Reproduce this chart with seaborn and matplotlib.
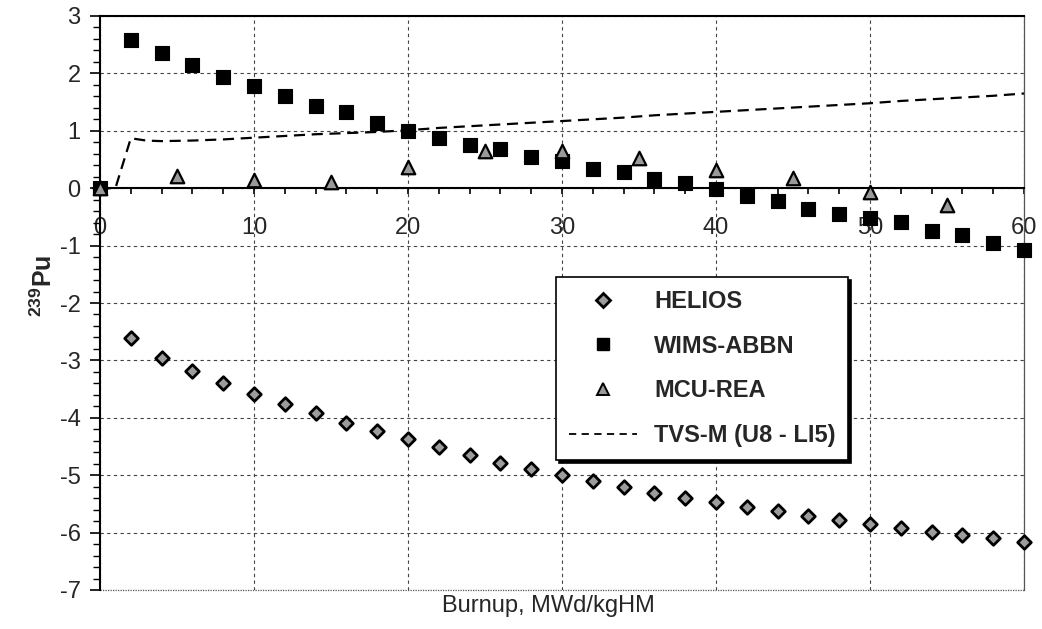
import matplotlib
matplotlib.use("Agg")
import matplotlib.pyplot as plt
import seaborn as sns
from matplotlib.lines import Line2D
from matplotlib.ticker import MultipleLocator

# Burnup grid (MWd/kgHM) shared by the HELIOS and WIMS-ABBN series
burnup = [0, 2, 4, 6, 8, 10, 12, 14, 16, 18, 20, 22, 24, 26, 28, 30,
          32, 34, 36, 38, 40, 42, 44, 46, 48, 50, 52, 54, 56, 58, 60]

helios = [0.0, -2.61, -2.96, -3.19, -3.40, -3.58, -3.76, -3.92, -4.09, -4.23,
          -4.37, -4.51, -4.65, -4.78, -4.89, -5.00, -5.10, -5.21, -5.31, -5.40,
          -5.47, -5.56, -5.63, -5.71, -5.78, -5.85, -5.92, -5.99, -6.04, -6.10,
          -6.17]

wims = [0.0, 2.58, 2.35, 2.14, 1.94, 1.78, 1.60, 1.44, 1.33, 1.14,
        1.00, 0.88, 0.75, 0.68, 0.55, 0.47, 0.34, 0.29, 0.16, 0.09,
        -0.02, -0.13, -0.22, -0.36, -0.45, -0.52, -0.59, -0.74, -0.81, -0.95,
        -1.08]

# MCU-REA reference points
mcu_burnup = [0, 5, 10, 15, 20, 25, 30, 35, 40, 45, 50, 55]
mcu = [0.0, 0.21, 0.15, 0.10, 0.37, 0.65, 0.64, 0.52, 0.32, 0.17, -0.06, -0.30]

# TVS-M (U8 - LI5) curve
tvs_burnup = [0, 1, 2, 3, 4, 6, 8, 10, 12, 14, 16, 18, 20, 22, 24, 26, 28, 30,
              32, 34, 36, 38, 40, 42, 44, 46, 48, 50, 52, 54, 56, 58, 60]
tvs = [0.0, 0.0, 0.87, 0.83, 0.82, 0.83, 0.85, 0.88, 0.91, 0.94, 0.96, 0.98,
       1.01, 1.05, 1.08, 1.11, 1.14, 1.17, 1.20, 1.23, 1.27, 1.30, 1.33, 1.36,
       1.39, 1.42, 1.45, 1.48, 1.52, 1.55, 1.58, 1.61, 1.65]

labels = ["HELIOS", "WIMS-ABBN", "MCU-REA", "TVS-M (U8 - LI5)"]
x_label = "Burnup, MWd/kgHM"
y_label = r"$\mathbf{^{239}Pu}$"

sns.set_theme(style="white")
plt.rcParams["font.family"] = ["Liberation Sans", "DejaVu Sans"]
plt.rcParams["mathtext.fontset"] = "custom"
plt.rcParams["mathtext.bf"] = "Liberation Sans:bold"
plt.rcParams["mathtext.rm"] = "Liberation Sans"
plt.rcParams["axes.unicode_minus"] = False

fig = plt.figure(figsize=(10.42, 6.29), dpi=100)
ax = fig.add_axes([100 / 1042, 1 - 590 / 629, 924 / 1042, 574 / 629])

ax.set_xlim(0, 60)
ax.set_ylim(-7, 3)

diamond_kw = dict(marker="D", s=48, color="#9c9c9c", edgecolor="black", linewidth=2.0)
square_kw = dict(marker="s", s=95, color="black", edgecolor="black", linewidth=0.8)
triangle_kw = dict(marker="^", s=95, color="#9a9a9a", edgecolor="black", linewidth=1.6)
dash_style = (0, (5, 3))

sns.lineplot(x=tvs_burnup, y=tvs, color="black", linewidth=1.6,
             linestyle=dash_style, ax=ax, zorder=3)
sns.scatterplot(x=burnup, y=helios, ax=ax, zorder=4, clip_on=False,
                legend=False, **diamond_kw)
sns.scatterplot(x=mcu_burnup, y=mcu, ax=ax, zorder=5, clip_on=False,
                legend=False, **triangle_kw)
sns.scatterplot(x=burnup, y=wims, ax=ax, zorder=4, clip_on=False,
                legend=False, **square_kw)

# Ticks and grid
ax.xaxis.set_major_locator(MultipleLocator(10))
ax.xaxis.set_minor_locator(MultipleLocator(2))
ax.yaxis.set_major_locator(MultipleLocator(1))
ax.yaxis.set_minor_locator(MultipleLocator(0.2))
ax.grid(True, which="major", color="#444444", linestyle=(0, (3, 3)), linewidth=0.8)
ax.set_axisbelow(True)

ax.tick_params(axis="x", which="both", direction="out", bottom=True,
               length=4, width=1.2, color="black", labelsize=17, pad=17)
ax.tick_params(axis="y", which="major", direction="out", left=True,
               length=7, width=1.2, color="black", labelsize=17, pad=7)
ax.tick_params(axis="y", which="minor", direction="out", left=True,
               length=5, width=1.0, color="black")

# Frame: x axis runs along zero, outer box drawn light
ax.spines["bottom"].set_position(("data", 0))
ax.spines["bottom"].set_color("black")
ax.spines["bottom"].set_linewidth(1.5)
ax.spines["bottom"].set_zorder(3)
ax.spines["left"].set_color("black")
ax.spines["left"].set_linewidth(1.5)
ax.spines["top"].set_color("black")
ax.spines["top"].set_linewidth(1.5)
ax.spines["right"].set_color("#555555")
ax.spines["right"].set_linewidth(0.9)
ax.spines["right"].set_linestyle((0, (1, 1)))
ax.axhline(ax.get_ylim()[0], color="#555555", linewidth=0.9,
           linestyle=(0, (1, 1)), clip_on=False)

ax.set_xlabel(x_label, fontsize=17)
ax.xaxis.set_label_coords(0.485, -0.008)
ax.set_ylabel(y_label, fontsize=18)
ax.yaxis.set_label_coords(-0.046, 0.53)

handles = [
    Line2D([], [], linestyle="none", marker="D", markersize=7,
           markerfacecolor="#9c9c9c", markeredgecolor="black", markeredgewidth=2.0),
    Line2D([], [], linestyle="none", marker="s", markersize=8,
           markerfacecolor="black", markeredgecolor="black"),
    Line2D([], [], linestyle="none", marker="^", markersize=8,
           markerfacecolor="#9a9a9a", markeredgecolor="black", markeredgewidth=1.4),
    Line2D([], [], color="black", linewidth=1.3, linestyle=(0, (4, 3))),
]
leg = ax.legend(handles, labels, loc="upper left",
                bbox_to_anchor=(0.4935, 0.5453), borderaxespad=0,
                frameon=True, fancybox=False,
                shadow={"color": "black", "alpha": 1.0},
                prop={"weight": "bold", "size": 17},
                handlelength=2.9, handletextpad=0.7, labelspacing=0.92,
                borderpad=0.55)
leg.get_frame().set_edgecolor("black")
leg.get_frame().set_linewidth(1.2)
leg.set_zorder(10)

fig.savefig("out.png", dpi=100, facecolor="white")
